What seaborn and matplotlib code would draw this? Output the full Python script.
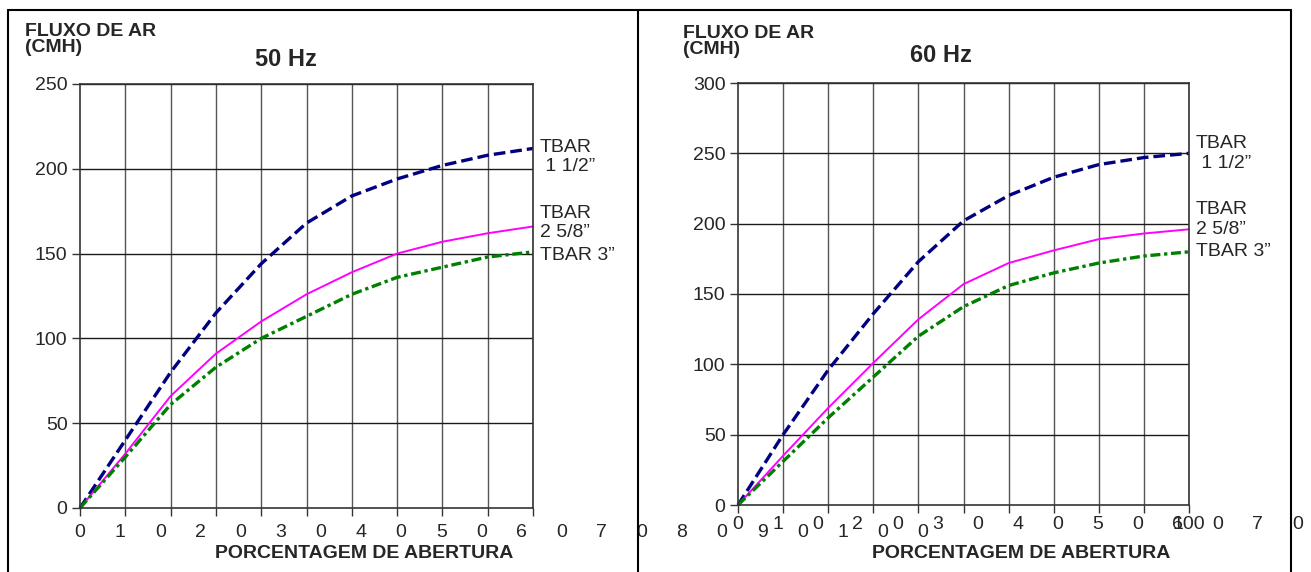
import numpy as np
import pandas as pd
import matplotlib
matplotlib.use("Agg")
import matplotlib.pyplot as plt
from matplotlib.lines import Line2D
import seaborn as sns

# abertura (%)
pct = [0, 10, 20, 30, 40, 50, 60, 70, 80, 90, 100]
xtick_labels = ["0", "10", "20", "30", "40", "50", "60", "70", "80", "90", "100"]

# 50 Hz
hz50_tbar_112 = [0, 40, 80, 115, 144, 168, 184, 194, 202, 208, 212]
hz50_tbar_258 = [0, 32, 66, 91, 110, 126, 139, 150, 157, 162, 166]
hz50_tbar_3 = [0, 30, 61, 83, 100, 113, 126, 136, 142, 148, 151]

# 60 Hz
hz60_tbar_112 = [0, 50, 96, 136, 173, 202, 220, 233, 242, 247, 250]
hz60_tbar_258 = [0, 35, 69, 101, 132, 157, 172, 181, 189, 193, 196]
hz60_tbar_3 = [0, 31, 62, 91, 120, 141, 156, 165, 172, 177, 180]

series_names = ["TBAR\n 1 1/2\u201d", "TBAR\n2 5/8\u201d", "TBAR 3\u201d"]
colors = ["#000080", "#ff00ff", "#008000"]
styles = [(0, (3.5, 1.5)), "-", (0, (3, 1.1, 1, 1.1))]
widths = [2.4, 1.4, 2.4]

sns.set_style("white")
plt.rcParams["font.family"] = ["Liberation Sans", "DejaVu Sans"]

W, H = 1311, 572
fig = plt.figure(figsize=(W / 100, H / 100), dpi=100)


def fx(px):
    return px / W


def fy(py):
    return 1 - py / H


panels = [
    dict(rect=[fx(80), fy(508), fx(453), 424 / H], ymax=250,
         data=[hz50_tbar_112, hz50_tbar_258, hz50_tbar_3],
         title="50 Hz", title_xy=(286, 59), ylab_xy=(25, 31), char_off=11.5,
         label_y=[207, 168, 149], extra100=False),
    dict(rect=[fx(738), fy(505), fx(451), 422 / H], ymax=300,
         data=[hz60_tbar_112, hz60_tbar_258, hz60_tbar_3],
         title="60 Hz", title_xy=(941, 55), ylab_xy=(683, 33), char_off=8,
         label_y=[250, 203, 180], extra100=True),
]

for p in panels:
    ax = fig.add_axes(p["rect"])
    for vals, name, c, ls, lw in zip(p["data"], series_names, colors, styles, widths):
        df = pd.DataFrame({"pct": pct, "cmh": vals})
        sns.lineplot(data=df, x="pct", y="cmh", ax=ax, color=c, linestyle=ls,
                     linewidth=lw, clip_on=False)
    ax.set_xlim(0, 100)
    ax.set_ylim(0, p["ymax"])
    ax.set_xticks(pct)
    ax.set_xticklabels([])
    ax.set_yticks(np.arange(0, p["ymax"] + 1, 50))
    ax.tick_params(axis="y", labelsize=14, length=6, width=1, pad=3,
                   color="#333333", direction="out", left=True)
    ax.tick_params(axis="x", length=6, width=1, color="#333333",
                   direction="out", bottom=True)
    ax.set_xlabel("")
    ax.set_ylabel("")
    for x in pct[1:]:
        ax.axvline(x, color="#555555", lw=1, zorder=0)
    for y in np.arange(50, p["ymax"] + 1, 50):
        ax.axhline(y, color="#1a1a1a", lw=1, zorder=0)
    for s in ax.spines.values():
        s.set_color("#333333")
        s.set_linewidth(1.2)

    # broken tick label characters, as in the original
    chars = "".join(xtick_labels)
    for i, ch in enumerate(chars):
        ax.annotate(ch, xy=(i * 8.86, 0), xytext=(0, -p["char_off"]),
                    textcoords="offset points", ha="center", va="top",
                    fontsize=14, annotation_clip=False)
    if p["extra100"]:
        ax.annotate("100", xy=(100, 0), xytext=(0, -p["char_off"]),
                    textcoords="offset points", ha="center", va="top",
                    fontsize=14, annotation_clip=False)

    # curve labels
    for name, ly in zip(series_names, p["label_y"]):
        ax.text(101.5, ly, name, fontsize=14, ha="left", va="center",
                linespacing=1.18, clip_on=False)

    tx, ty = p["title_xy"]
    fig.text(fx(tx), fy(ty), p["title"], fontsize=17, fontweight="bold",
             ha="center", va="center")
    lx, ly = p["ylab_xy"]
    fig.text(fx(lx), fy(ly), "FLUXO DE AR", fontsize=14, fontweight="bold",
             ha="left", va="center")
    fig.text(fx(lx), fy(ly + 16), "(CMH)", fontsize=14, fontweight="bold",
             ha="left", va="center")
    cx = p["rect"][0] + p["rect"][2] / 2 + fx(58)
    fig.text(cx, fy(553), "PORCENTAGEM DE ABERTURA", fontsize=14,
             fontweight="bold", ha="center", va="center")

# outer frame
for xs, ys in [((8, 1291), (10, 10)), ((8, 8), (10, 572)),
               ((638, 638), (10, 572)), ((1291, 1291), (10, 572))]:
    fig.add_artist(Line2D([fx(xs[0]), fx(xs[1])], [fy(ys[0]), fy(ys[1])],
                          transform=fig.transFigure, color="black", lw=1.5))

fig.savefig("out.png", dpi=100)
